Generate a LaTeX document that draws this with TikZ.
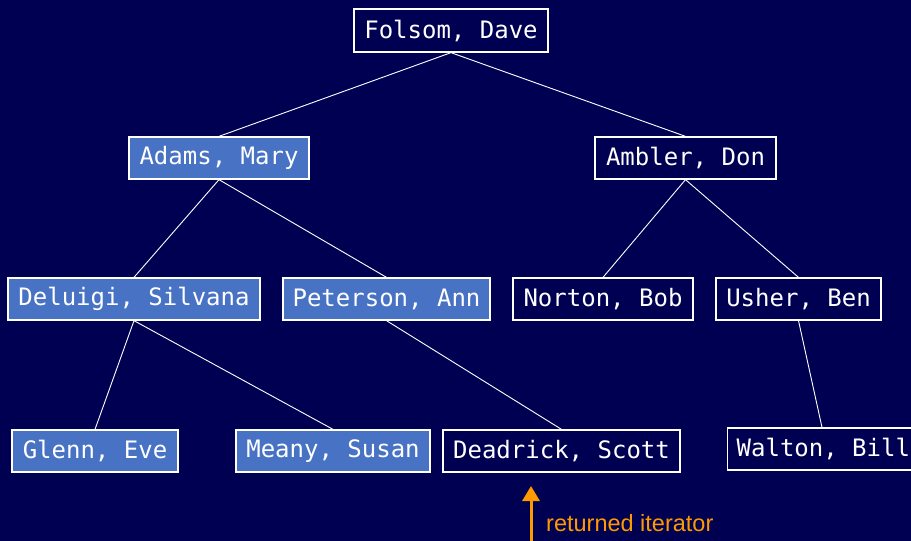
\documentclass[tikz,border=0pt]{standalone}
\usepackage{fontspec}
\setmonofont{DejaVu Sans Mono}
\setsansfont{Liberation Sans}
\usetikzlibrary{arrows.meta}
\definecolor{bgnavy}{RGB}{0,0,82}
\definecolor{boxblue}{RGB}{72,114,196}
\definecolor{iterorange}{RGB}{255,153,0}
\tikzset{
  tnode/.style={draw=white, line width=1.3pt, text=white, inner sep=0pt,
    minimum height=42pt, font=\fontsize{24}{25}\selectfont\ttfamily},
  filled/.style={tnode, fill=boxblue},
  plain/.style={tnode, fill=bgnavy},
  edge/.style={draw=white, line width=0.9pt},
}
\begin{document}
\begin{tikzpicture}[x=1pt,y=-1pt]
\fill[bgnavy] (0,0) rectangle (911,541);
\useasboundingbox (0,0) rectangle (911,541);
\clip (0,0) rectangle (911,541);

\node[plain, minimum width=194pt, minimum height=43pt] (folsom) at (451,30.5) {Folsom, Dave};
\node[filled, minimum width=180pt] (adams) at (219,158) {Adams, Mary};
\node[plain, minimum width=181pt] (ambler) at (685.5,158) {Ambler, Don};
\node[filled, minimum width=252pt] (deluigi) at (134,299) {Deluigi, Silvana};
\node[filled, minimum width=207pt] (peterson) at (386.5,299) {Peterson, Ann};
\node[plain, minimum width=180pt] (norton) at (603,299) {Norton, Bob};
\node[plain, minimum width=165pt] (usher) at (798.5,299) {Usher, Ben};
\node[filled, minimum width=166pt] (glenn) at (95,451) {Glenn, Eve};
\node[filled, minimum width=194pt] (meany) at (333,451) {Meany, Susan};
\node[plain, minimum width=237pt] (deadrick) at (561.5,451) {Deadrick, Scott};
\node[plain, inner xsep=9pt, anchor=west] (walton) at (727,449) {Walton, Bill};

\draw[edge] (folsom.south) -- (adams.north);
\draw[edge] (folsom.south) -- (ambler.north);
\draw[edge] (adams.south) -- (deluigi.north);
\draw[edge] (adams.south) -- (peterson.north);
\draw[edge] (ambler.south) -- (norton.north);
\draw[edge] (ambler.south) -- (usher.north);
\draw[edge] (deluigi.south) -- (glenn.north);
\draw[edge] (deluigi.south) -- (meany.north);
\draw[edge] (peterson.south) -- (deadrick.north);
\draw[edge] (usher.south) -- (walton.north -| 822,0);

\coordinate (arrowfoot) at (531,541);
\coordinate (arrowtip) at (531,486);
\draw[iterorange, line width=3pt, -{Triangle[width=17pt,length=15pt]}] (arrowfoot) -- (arrowtip);
\node[anchor=base west, inner sep=0pt, text=iterorange, font=\fontsize{23.5}{25}\selectfont\sffamily] (iterlabel) at (546,531) {returned iterator};
\end{tikzpicture}
\end{document}
